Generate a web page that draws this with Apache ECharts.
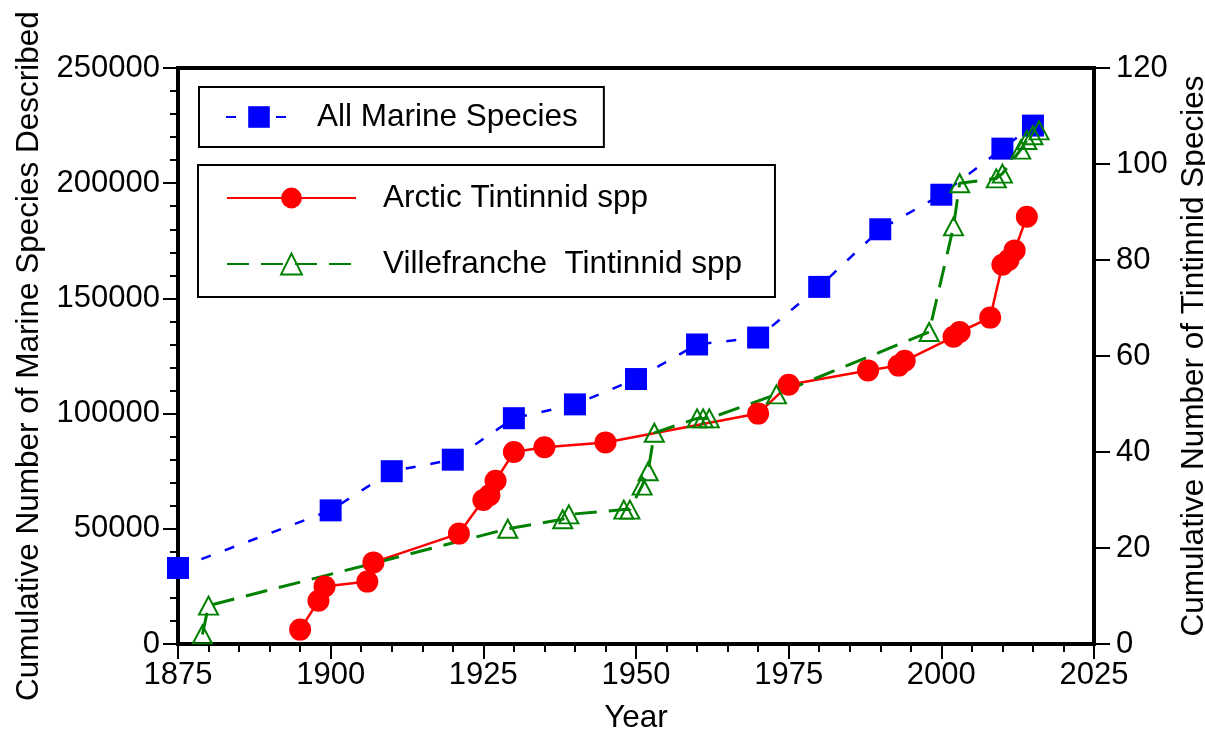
<!DOCTYPE html>
<html>
<head>
<meta charset="utf-8">
<script src="https://cdn.jsdelivr.net/npm/echarts@6/dist/echarts.min.js"></script>
<style>
html, body { margin: 0; padding: 0; background: #fff; }
#chart { width: 1205px; height: 733px; }
</style>
</head>
<body>
<div id="chart"></div>
<script>
// values
const marineYears = [1875, 1900, 1910, 1920, 1930, 1940, 1950, 1960, 1970, 1980, 1990, 2000, 2010, 2015];
const marineCounts = [33000, 58000, 75000, 80000, 98000, 104000, 115000, 130000, 133000, 155000, 180000, 195000, 215000, 225000];

const arcticYears = [1895, 1898, 1899, 1906, 1907, 1921, 1925, 1926, 1927, 1930, 1935, 1945, 1970, 1975, 1988, 1993, 1994, 2002, 2003, 2008, 2010, 2011, 2012, 2014];
const arcticCounts = [3, 9, 12, 13, 17, 23, 30, 31, 34, 40, 41, 42, 48, 54, 57, 58, 59, 64, 65, 68, 79, 80, 82, 89];

const villeYears = [1879, 1880, 1929, 1938, 1939, 1948, 1949, 1951, 1952, 1953, 1960, 1961, 1962, 1973, 1998, 2002, 2003, 2009, 2010, 2013, 2014, 2015, 2016];
const villeCounts = [2, 8, 24, 26, 27, 28, 28, 33, 36, 44, 47, 47, 47, 52, 65, 87, 96, 97, 98, 103, 105, 106, 107];

const font = 'Liberation Sans, Arial, Helvetica, sans-serif';

const pairs = (xs, ys) => xs.map((x, i) => [x, ys[i]]);

const tick = { show: true, length: 15, lineStyle: { color: '#000', width: 2 } };
const minor = { show: true, splitNumber: 5, length: 8, lineStyle: { color: '#000', width: 2 } };
const label = (margin) => ({ margin: margin, color: '#000', fontSize: 31, fontFamily: font, formatter: v => String(v) });
const nameStyle = { color: '#000', fontSize: 31.5, fontFamily: font };

const chart = echarts.init(document.getElementById('chart'));

const option = {
	animation: false,
	backgroundColor: '#fff',
	textStyle: { fontFamily: font },
	grid: {
		left: 178, top: 68, width: 916, height: 576,
		outerBoundsMode: 'none', containLabel: false,
		show: true, borderColor: '#000', borderWidth: 4, backgroundColor: 'transparent'
	},
	xAxis: {
		type: 'value', min: 1875, max: 2025, interval: 25,
		name: 'Year', nameLocation: 'middle', nameGap: 58, nameTextStyle: nameStyle,
		axisLine: { show: false },
		axisTick: tick,
		minorTick: minor,
		axisLabel: label(16),
		splitLine: { show: false }
	},
	yAxis: [
		{
			type: 'value', position: 'left', min: 0, max: 250000, interval: 50000,
			name: 'Cumulative Number of Marine Species Described', nameLocation: 'middle', nameGap: 129,
			nameTextStyle: nameStyle,
			axisLine: { show: false },
			axisTick: tick,
			minorTick: minor,
			axisLabel: label(18),
			splitLine: { show: false }
		},
		{
			type: 'value', position: 'right', min: 0, max: 120, interval: 20,
			name: 'Cumulative Number of Tintinnid Species', nameLocation: 'middle', nameGap: 73,
			nameTextStyle: nameStyle,
			axisLine: { show: false },
			axisTick: { show: true, length: 16, lineStyle: { color: '#000', width: 2 } },
			axisLabel: label(22),
			splitLine: { show: false }
		}
	],
	legend: [
		{
			data: ['All Marine Species'],
			left: 199, top: 87, orient: 'vertical', selectedMode: false,
			padding: [14, 26, 14, 26],
			borderColor: '#000', borderWidth: 2,
			itemWidth: 66, itemHeight: 27,
			textStyle: { fontSize: 31.5, color: '#000', fontFamily: font, padding: [0, 0, 0, 20] }
		},
		{
			data: ['Arctic Tintinnid spp', 'Villefranche  Tintinnid spp'],
			left: 198, top: 165, orient: 'vertical', selectedMode: false,
			itemGap: 34,
			padding: [17, 33, 17, 28],
			borderColor: '#000', borderWidth: 2,
			itemWidth: 129, itemHeight: 26,
			textStyle: { fontSize: 31.5, color: '#000', fontFamily: font, padding: [0, 0, 0, 22] }
		}
	],
	series: [
		{
			name: 'All Marine Species', type: 'line', yAxisIndex: 0,
			data: pairs(marineYears, marineCounts),
			symbol: 'rect', symbolSize: 22,
			lineStyle: { color: '#0000ff', width: 2.5, type: [10, 15] },
			itemStyle: { color: '#0000ff' }
		},
		{
			name: 'Arctic Tintinnid spp', type: 'line', yAxisIndex: 1,
			data: pairs(arcticYears, arcticCounts),
			symbol: 'circle', symbolSize: 22,
			lineStyle: { color: '#ff0000', width: 2.5 },
			itemStyle: { color: '#ff0000' }
		},
		{
			name: 'Villefranche  Tintinnid spp', type: 'line', yAxisIndex: 1,
			data: pairs(villeYears, villeCounts),
			symbol: 'triangle', symbolSize: [19, 18],
			lineStyle: { color: '#008000', width: 3, type: [22, 12] },
			itemStyle: { color: 'rgba(0,0,0,0)', borderColor: '#008000', borderWidth: 2 }
		}
	]
};

chart.setOption(option);
</script>
</body>
</html>
